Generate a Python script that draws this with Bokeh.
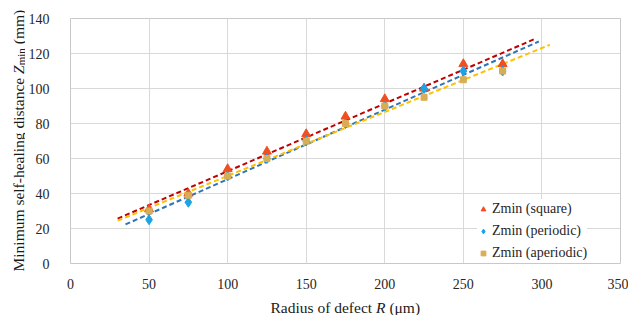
import numpy as np
from math import pi
from bokeh.plotting import figure
from bokeh.layouts import row, column
from bokeh.models import Range1d, Label, Legend, LegendItem, FixedTicker
from bokeh.embed import file_html
from bokeh.resources import INLINE

# ---- data ----
radius = [50, 75, 100, 125, 150, 175, 200, 225, 250, 275]
zmin_square = [31, 40, 54, 64, 74, 84, 94, 100, 114, 114]
zmin_periodic = [25, 35, 50, 60, 70, 80, 90, 100, 110, 110]
zmin_aperiodic = [30, 39, 50, 60, 70, 80, 90, 95, 105, 110]
series_names = ["Zmin (square)", "Zmin (periodic)", "Zmin (aperiodic)"]
trend_from = [30, 35, 30]
trend_to = [295, 298, 305]
x_ticks = [0, 50, 100, 150, 200, 250, 300, 350]
y_ticks = [0, 20, 40, 60, 80, 100, 120, 140]

FONT = "Liberation Serif"
TXT = "#1a1a1a"

# overall geometry (pixels)
W, H = 628, 315
YW = 25            # strip holding the rotated y title
XH = 24            # strip holding the x title
MW, MH = W - YW, H - XH
BL, BR, BT, BB = 43, 8, 18, 25

p = figure(width=MW, height=MH, x_range=Range1d(0, 350), y_range=Range1d(0, 140),
           output_backend="svg", toolbar_location=None,
           min_border_left=BL, min_border_right=BR, min_border_top=BT, min_border_bottom=BB)
p.background_fill_color = "white"
p.border_fill_color = "white"
p.outline_line_color = "#C8C8C8"

p.xaxis.ticker = FixedTicker(ticks=x_ticks)
p.yaxis.ticker = FixedTicker(ticks=y_ticks)
for ax in (p.xaxis[0], p.yaxis[0]):
    ax.axis_line_color = None
    ax.major_tick_line_color = None
    ax.minor_tick_line_color = None
    ax.major_label_text_font = FONT
    ax.major_label_text_font_size = "14px"
    ax.major_label_text_color = "#262626"
p.xaxis.major_label_standoff = 9
p.yaxis.major_label_standoff = 15
p.xgrid.grid_line_color = "#D9D9D9"
p.ygrid.grid_line_color = "#D9D9D9"

series = [zmin_square, zmin_periodic, zmin_aperiodic]
line_colors = ["#C00000", "#2E75B6", "#FFC000"]
marker_colors = ["#F04E23", "#1AA3E6", "#D9AD55"]
markers = ["triangle", "diamond", "square"]
sizes = [9, 10, 6]

# trendlines (linear fit of each series)
for ys, c, x0, x1 in zip(series, line_colors, trend_from, trend_to):
    k, b = np.polyfit(radius, ys, 1)
    xs = np.array([x0, x1], dtype=float)
    p.line(xs, k * xs + b, line_color=c, line_width=2, line_dash="5 3")

items = []
for ys, name, mc, mk, sz in zip(series, series_names, marker_colors, markers, sizes):
    r = p.scatter(radius, ys, marker=mk, size=sz, fill_color=mc, line_color=mc)
    items.append(LegendItem(label=name, renderers=[r]))

legend = Legend(items=items, location=(407, 0), orientation="vertical",
                glyph_width=12, glyph_height=20, label_height=20, label_standoff=3,
                spacing=2, padding=5, margin=0,
                background_fill_color="white", background_fill_alpha=1.0,
                border_line_color=None)
legend.label_text_font = FONT
legend.label_text_font_size = "14px"
legend.label_text_color = "#262626"
p.add_layout(legend)


def strip(w, h):
    f = figure(width=w, height=h, output_backend="svg", toolbar_location=None,
               x_axis_location=None, y_axis_location=None,
               min_border_left=0, min_border_right=0, min_border_top=0, min_border_bottom=0)
    f.outline_line_color = None
    f.xgrid.visible = False
    f.ygrid.visible = False
    f.background_fill_color = "white"
    f.border_fill_color = "white"
    return f


def lab(fig, text, x, y, size, style="normal", angle=0.0):
    fig.add_layout(Label(x=x, y=y, x_units="screen", y_units="screen", text=text, angle=angle,
                         text_font=FONT, text_font_size=size, text_font_style=style,
                         text_color=TXT, text_align="left", text_baseline="alphabetic"))


yf = strip(YW, MH)
xf = strip(W, XH)

# stop the layout from aligning the title strips' frames with the chart frame
can_unalign = "frame_align" in yf.properties()
if can_unalign:
    yf.frame_align = False
    xf.frame_align = False

# y title strip: "Minimum self-healing distance Z_min (mm)" rotated
if can_unalign:
    fs, y0 = 15.5, 20.0          # strip frame spans the whole strip
else:
    fs, y0 = 14.2, 3.0           # strip frame is aligned to the chart frame
em = fs / 1000.0
sub = fs * 0.71
yx = 18
w_main = 12749 * em
w_z = 556 * em
w_min = 1556 * sub / 1000.0
sp = 250 * em
lab(yf, "Minimum self-healing distance", yx, y0, f"{fs}px", angle=pi / 2)
lab(yf, "Z", yx, y0 + w_main, f"{fs}px", angle=pi / 2, style="italic")
lab(yf, "min", yx + 2.5, y0 + w_main + w_z, f"{sub:.1f}px", angle=pi / 2)
lab(yf, "(mm)", yx, y0 + w_main + w_z + w_min + sp, f"{fs}px", angle=pi / 2)

# x title strip: "Radius of defect R (μm)"
SP = 3.9
cx = 70 + (W - 70 - BR) / 2
start = cx - 75
xb = 8
lab(xf, "Radius of defect", start, xb, "15.5px")
lab(xf, "R", start + 105.5, xb, "15.5px", style="italic")
lab(xf, "(μm)", start + 115 + SP, xb, "15.5px")

layout = column(row(yf, p, spacing=0), xf, spacing=0)
open("out.html", "w").write(file_html(layout, INLINE))
